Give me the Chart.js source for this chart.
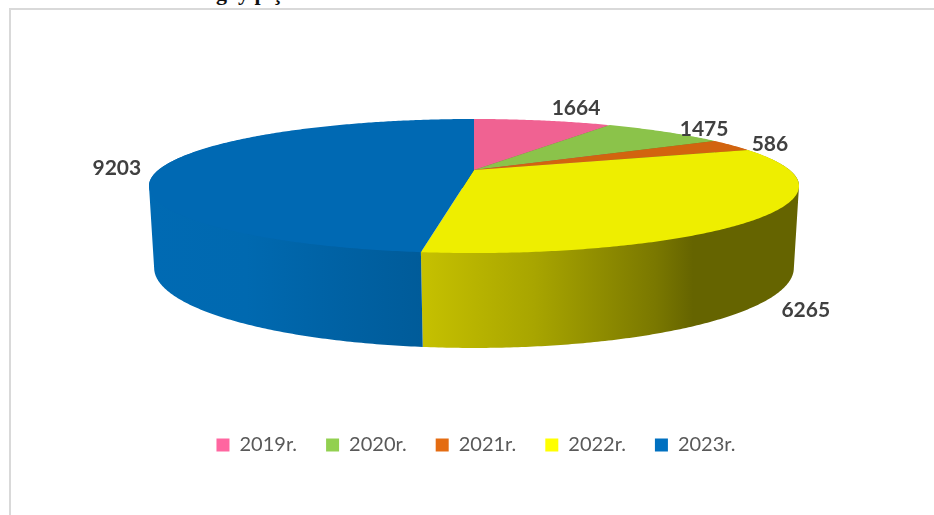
<!DOCTYPE html>
<html><head><meta charset="utf-8">
<style>
html,body{margin:0;padding:0;background:#fff;width:934px;height:515px;overflow:hidden}
#frame{position:absolute;left:9px;top:8px;width:925px;height:507px;border-left:2px solid #d9d9d9;border-top:2px solid #d9d9d9;box-sizing:border-box}
#head{position:absolute;left:216px;top:-20px;font:bold 22px "Liberation Serif",serif;color:#111;white-space:pre}
#wrap{position:absolute;left:0;top:0;width:934px;height:515px}
</style>
<script src="https://cdn.jsdelivr.net/npm/chart.js@4"></script>
</head><body>
<div id="frame"></div>
<div id="head">g  y p ç</div>
<div id="wrap"><canvas id="c" width="934" height="515"></canvas></div>
<script>
const categories = ["2019r.","2020r.","2021r.","2022r.","2023r."];
const values = [1664,1475,586,6265,9203];
const legendColors = ["#FF66A0","#92D050","#E46C12","#FFFF00","#0070C0"];
const faceColors = ["#F06292","#8BC34A","#D2640F","#EEEE00","#0069B3"];
const wallStops = [
  [[0,"#a84468"],[1,"#a84468"]],
  [[0,"#5f8a33"],[1,"#5f8a33"]],
  [[0,"#8f460c"],[1,"#8f460c"]],
  [[0,"#c6c100"],[0.3,"#a8a500"],[0.62,"#7a7800"],[0.72,"#656400"],[1,"#656400"]],
  [[0,"#006ab3"],[0.3,"#0069b0"],[0.6,"#0061a3"],[0.9,"#005a97"],[1,"#00508a"]]
];
const labelOffsets = [[33,-12],[39,-3],[38,-1],[42,94],[-47,2]];

const topFace = {cx:474, cy:170, a:315.6, b:63.2, p:0.239};
const wallTop = {cx:474, cy:170, a:315.6, b:62, p:0.239};
const baseFace = {cx:474, cy:250.4, a:312, b:76.1, p:0.22};
function project(f, angle){
  const u=Math.cos(angle), v=-Math.sin(angle), w=1+f.p*v;
  return [f.cx+f.a*u/w, f.cy-f.b*v/w];
}
function rim(f, s, e){
  const n=Math.max(2,Math.ceil((e-s)/0.01)), pts=[];
  for(let i=0;i<=n;i++) pts.push(project(f,s+(e-s)*i/n));
  return pts;
}
function area(q){
  let s=0;
  q.forEach((p,i)=>{const r=q[(i+1)%q.length]; s+=p[0]*r[1]-r[0]*p[1];});
  return s;
}
const pie3d = {
  id:'pie3d',
  beforeDatasetDraw(chart,args){
    const ctx=chart.ctx, arcs=args.meta.data;
    ctx.save();
    arcs.forEach((arc,i)=>{
      const top=rim(wallTop,arc.startAngle,arc.endAngle);
      const bot=rim(baseFace,arc.startAngle,arc.endAngle);
      const xs=top.concat(bot).map(p=>p[0]);
      const x0=Math.min(...xs), x1=Math.max(...xs);
      const g=ctx.createLinearGradient(x0,0,x1,0);
      wallStops[i].forEach(s=>g.addColorStop(s[0],s[1]));
      ctx.fillStyle=g;
      ctx.beginPath();
      for(let k=0;k<top.length-1;k++){
        let q=[top[k],top[k+1],bot[k+1],bot[k]];
        if(area(q)<0) q=q.reverse();
        q.forEach((p,m)=>m?ctx.lineTo(p[0],p[1]):ctx.moveTo(p[0],p[1]));
        ctx.closePath();
      }
      ctx.fill();
    });
    arcs.forEach((arc,i)=>{
      ctx.beginPath();
      ctx.moveTo(topFace.cx,topFace.cy);
      rim(topFace,arc.startAngle,arc.endAngle).forEach(p=>ctx.lineTo(p[0],p[1]));
      ctx.closePath();
      ctx.fillStyle=faceColors[i]; ctx.fill();
    });
    ctx.font='bold 21px Lato, sans-serif';
    ctx.fillStyle='#404040';
    ctx.textAlign='center'; ctx.textBaseline='middle';
    arcs.forEach((arc,i)=>{
      const p=project(topFace,(arc.startAngle+arc.endAngle)/2);
      ctx.fillText(String(values[i]),p[0]+labelOffsets[i][0],p[1]+labelOffsets[i][1]);
    });
    ctx.restore();
    return false;
  }
};
new Chart(document.getElementById('c'),{
  type:'pie',
  data:{labels:categories,datasets:[{data:values,backgroundColor:legendColors,borderWidth:0}]},
  options:{
    responsive:false,animation:false,
    layout:{padding:{bottom:50,left:18}},
    plugins:{
      tooltip:{enabled:false},
      legend:{position:'bottom',labels:{boxWidth:13,boxHeight:13,padding:29,color:'#595959',font:{family:'Lato, sans-serif',size:20}}}
    }
  },
  plugins:[pie3d]
});
</script>
</body></html>
